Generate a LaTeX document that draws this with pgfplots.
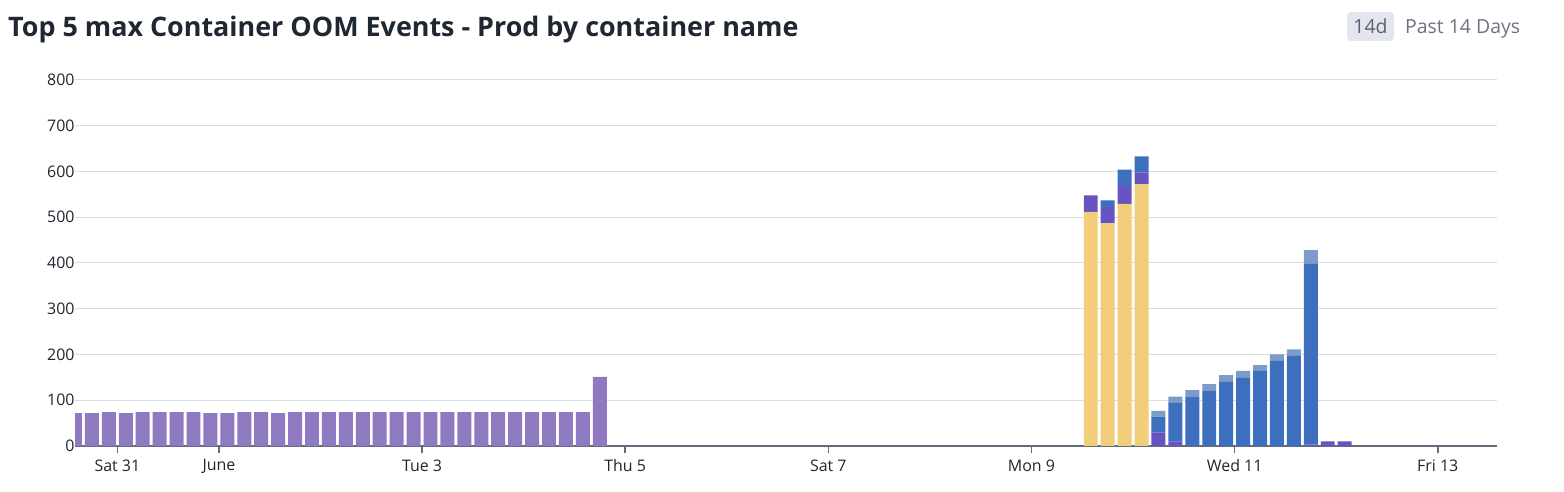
\documentclass[border=0pt]{standalone}
\usepackage{fontspec}
\setmainfont{Open Sans}
\usepackage{pgfplots}
\usepackage{pgfplotstable}
\pgfplotsset{compat=1.18}

\definecolor{cyel}{HTML}{F2CD7A}
\definecolor{cdp}{HTML}{6753C2}
\definecolor{cdb}{HTML}{3D6FBE}
\definecolor{clb}{HTML}{7A9CC7}
\definecolor{clp}{HTML}{8F79C1}
\definecolor{cgrid}{HTML}{DCDCDE}
\definecolor{caxis}{HTML}{646B7B}
\definecolor{ctick}{HTML}{20252E}
\definecolor{ctitle}{HTML}{1F2733}
\definecolor{cbadge}{HTML}{E3E6EE}
\definecolor{cgraytext}{HTML}{6B7280}

% x = hours after Sat 31 00:00, 4-hour buckets (bar centre)
\pgfplotstableread{
x lp yel dp db lb
-10 72 0 0 0 0
-6 72 0 0 0 0
-2 74 0 0 0 0
2 72 0 0 0 0
6 74 0 0 0 0
10 74 0 0 0 0
14 74 0 0 0 0
18 74 0 0 0 0
22 72 0 0 0 0
26 72 0 0 0 0
30 74 0 0 0 0
34 74 0 0 0 0
38 72 0 0 0 0
42 74 0 0 0 0
46 74 0 0 0 0
50 74 0 0 0 0
54 74 0 0 0 0
58 74 0 0 0 0
62 74 0 0 0 0
66 74 0 0 0 0
70 74 0 0 0 0
74 74 0 0 0 0
78 74 0 0 0 0
82 74 0 0 0 0
86 74 0 0 0 0
90 74 0 0 0 0
94 74 0 0 0 0
98 74 0 0 0 0
102 74 0 0 0 0
106 74 0 0 0 0
110 74 0 0 0 0
114 151 0 0 0 0
230 0 512 36 0 0
234 0 487 35 15 0
238 0 529 39 36 0
242 0 572 26 35 0
246 0 0 30 34 13
250 0 0 10 84 14
254 0 0 0 107 15
258 0 0 0 120 15
262 0 0 0 140 15
266 0 0 0 150 14
270 0 0 0 164 13
274 0 0 0 187 13
278 0 0 0 197 14
282 0 0 3 395 30
286 0 0 10 0 0
290 0 0 10 0 0
}\data

\begin{document}
\begin{tikzpicture}
\useasboundingbox (0,0) rectangle (1564bp,492bp);
\begin{axis}[
  at={(75bp,46bp)}, anchor=south west,
  scale only axis, width=1422bp, height=366bp,
  xmin=-10, xmax=326, ymin=0, ymax=800,
  ybar stacked, bar width=3.3,
  axis x line*=bottom, axis y line*=left,
  x axis line style={draw=caxis, line width=2bp, -},
  y axis line style={draw=none},
  ymajorgrids, grid style={draw=cgrid, line width=1bp},
  ytick={0,100,...,800},
  xtick={0,24,72,120,168,216,264,312},
  xticklabels={Sat 31,June,Tue 3,Thu 5,Sat 7,Mon 9,Wed 11,Fri 13},
  tick align=outside,
  xtick style={draw=caxis, line width=1.6bp},
  major tick length=7bp,
  ytick style={draw=none},
  /pgf/number format/assume math mode=true,
  ticklabel style={font=\fontsize{16}{19}\selectfont, text=ctick},
  yticklabel style={xshift=10bp},
  xticklabel style={yshift=-3bp},
]
\addplot[fill=clp, draw=none] table[x=x,y=lp]{\data};
\addplot[fill=cyel, draw=none] table[x=x,y=yel]{\data};
\addplot[fill=cdp, draw=none] table[x=x,y=dp]{\data};
\addplot[fill=cdb, draw=none] table[x=x,y=db]{\data};
\addplot[fill=clb, draw=none] table[x=x,y=lb]{\data};
\end{axis}
\node[anchor=base west, font=\fontsize{27}{32}\bfseries\selectfont, text=ctitle, inner sep=0] at (8bp,455bp) {Top 5 max Container OOM Events - Prod by container name};
\node[fill=cbadge, rounded corners=4bp, minimum width=47bp, minimum height=29bp, inner sep=0] at (1370.5bp,465.5bp) {};
\node[anchor=base, font=\fontsize{19.5}{23}\selectfont, text=cgraytext!85!black, inner sep=0] at (1370.5bp,458bp) {14d};
\node[anchor=base west, font=\fontsize{19.5}{23}\selectfont, text=cgraytext, inner sep=0] at (1405bp,458bp) {Past 14 Days};
\end{tikzpicture}
\end{document}
